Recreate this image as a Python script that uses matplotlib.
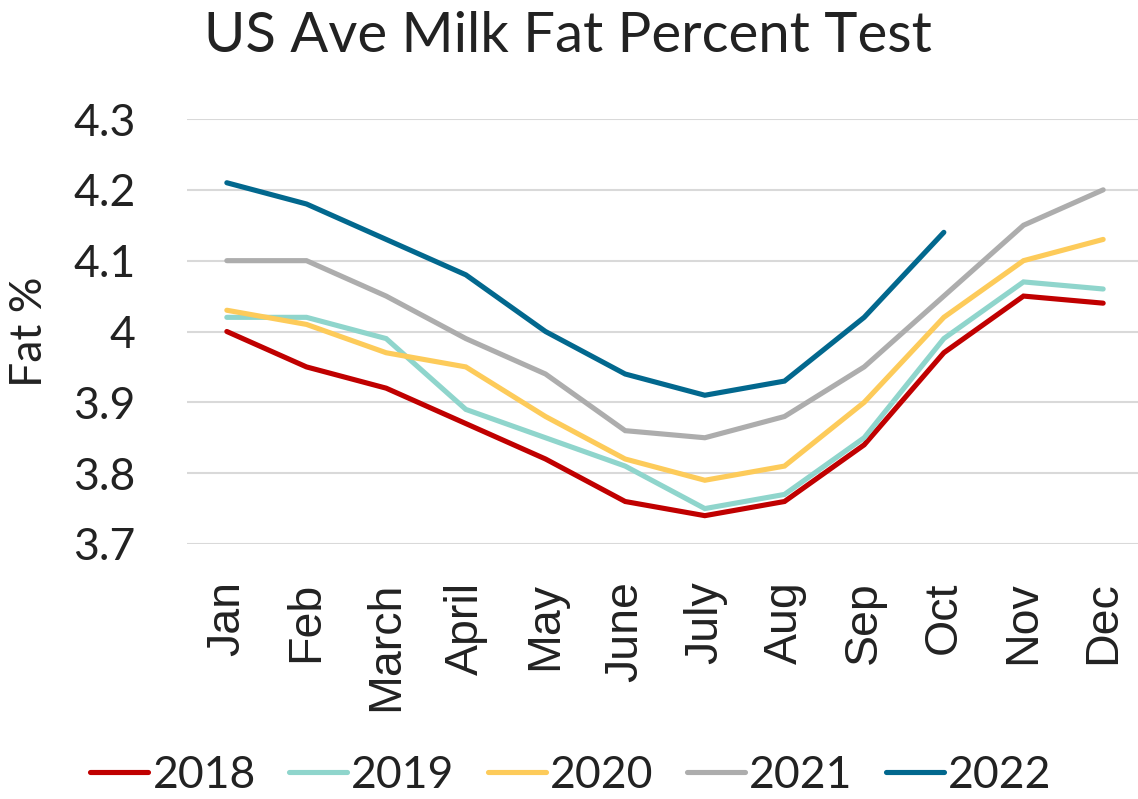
import matplotlib
matplotlib.use("Agg")
import matplotlib.pyplot as plt

# ---------- data ----------
months = ["Jan", "Feb", "March", "April", "May", "June",
          "July", "Aug", "Sep", "Oct", "Nov", "Dec"]
fat_2018 = [4.00, 3.95, 3.92, 3.87, 3.82, 3.76, 3.74, 3.76, 3.84, 3.97, 4.05, 4.04]
fat_2019 = [4.02, 4.02, 3.99, 3.89, 3.85, 3.81, 3.75, 3.77, 3.85, 3.99, 4.07, 4.06]
fat_2020 = [4.03, 4.01, 3.97, 3.95, 3.88, 3.82, 3.79, 3.81, 3.90, 4.02, 4.10, 4.13]
fat_2021 = [4.10, 4.10, 4.05, 3.99, 3.94, 3.86, 3.85, 3.88, 3.95, 4.05, 4.15, 4.20]
fat_2022 = [4.21, 4.18, 4.13, 4.08, 4.00, 3.94, 3.91, 3.93, 4.02, 4.14]
years = ["2018", "2019", "2020", "2021", "2022"]
series = [fat_2018, fat_2019, fat_2020, fat_2021, fat_2022]
colors = ["#C00000", "#8FD5CC", "#FDCB5A", "#ADADAD", "#02688E"]
y_ticks = [3.7, 3.8, 3.9, 4.0, 4.1, 4.2, 4.3]
y_tick_labels = ["3.7", "3.8", "3.9", "4", "4.1", "4.2", "4.3"]

plt.rcParams['font.family'] = ['Lato', 'DejaVu Sans']
TXT = '#222222'

fig = plt.figure(figsize=(11.38, 7.99), dpi=100)
W, H = 1138, 799
ax = fig.add_axes([187 / W, (H - 544) / H, 956 / W, (544 - 119) / H])

for yr, vals, c in zip(years, series, colors):
    ax.plot(range(len(vals)), vals, color=c, lw=3.7, label=yr,
            solid_capstyle='round', solid_joinstyle='miter')

ax.set_xlim(-0.5, len(months) - 0.5)
ax.set_ylim(3.7, 4.3)
ax.set_yticks(y_ticks)
ax.set_yticklabels(y_tick_labels, fontsize=32, color=TXT)
ax.set_xticks(range(len(months)))
ax.set_xticklabels(months, rotation=90, fontsize=33.5, color=TXT,
                   family=['Liberation Sans', 'DejaVu Sans'])
ax.tick_params(axis='x', length=0, pad=27)
ax.tick_params(axis='y', length=0, pad=37)

ax.grid(axis='y', color='#D9D9D9', lw=1.5)
ax.set_axisbelow(True)
for s in ax.spines.values():
    s.set_visible(False)

ax.set_ylabel("Fat %", fontsize=32, color=TXT)
ax.yaxis.set_label_coords(-137 / 956, 0.5)

fig.text(568 / W, 1 - 37 / H, "US Ave Milk Fat Percent Test", fontsize=40.5,
         ha='center', va='center', color=TXT)

leg = fig.legend(loc='center', bbox_to_anchor=(571 / W, 1 - 775 / H), ncol=5,
                 frameon=False, fontsize=32, handlelength=1.3,
                 handletextpad=0.1, columnspacing=0.75)
for t in leg.get_texts():
    t.set_color(TXT)

fig.savefig("out.png", dpi=100)
